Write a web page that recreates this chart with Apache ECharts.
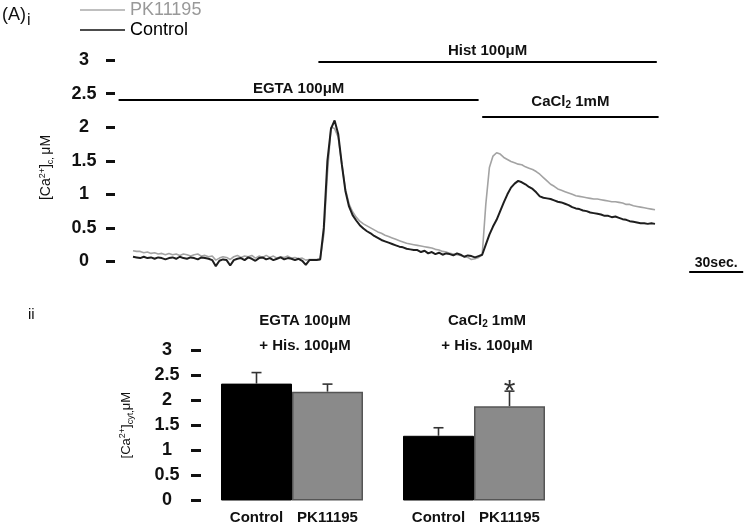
<!DOCTYPE html>
<html><head><meta charset="utf-8">
<script src="https://cdn.jsdelivr.net/npm/echarts@6/dist/echarts.min.js"></script>
<style>html,body{margin:0;padding:0;background:#fff}#c{width:750px;height:524px}</style>
</head><body><div id="c"></div>
<script>
// ---------- DATA ----------
const timeSec = [0,2,4,6,8,10,12,14,16,18,20,22,24,26,28,30,32,34,36,38,40,42,44,46,48,50,52,54,56,58,
60,62,64,66,68,70,72,74,76,78,80,82,84,86,88,90,92,94,96,98,100,102,104,106,108,110,112,114,116,118,
120,122,124,126,128,130,132,134,136,138,140,142,144,146,148,150,152,154,156,158,160,162,164,166,168,170,172,174,176,178,
180,182,184,186,188,190,192,194,196,198,200,202,204,206,208,210,212,214,216,218,220,222,224,226,228,230,232,234,236,238,
240,242,244,246,248,250,252,254,256,258,260,262,264,266,268,270,272,274,276,278,280,282,284,286,288,290];
const controlTrace = [
0.07,0.06,0.05,0.07,0.05,0.06,0.04,0.06,0.05,0.03,
0.05,0.06,0.04,0.07,0.05,0.04,0.06,0.05,0.03,0.06,
0.05,0.04,0.02,-0.07,0.01,0.03,0.02,-0.06,0.02,0.04,
0.05,0.02,0.06,0.04,0.01,0.05,0.06,0.03,0.05,0.02,
0.04,0.06,0.03,0.05,0.04,0.02,0.04,0.01,-0.05,0.02,
0.02,0.02,
0.03,0.50,1.50,1.98,2.10,1.90,1.45,1.05,0.82,0.69,
0.61,0.54,0.49,0.45,0.42,0.38,0.35,0.32,0.30,0.28,
0.26,0.24,0.22,0.21,0.19,0.18,0.17,0.17,0.14,0.16,
0.12,0.14,0.11,0.13,0.10,0.12,0.11,0.09,0.12,0.10,
0.07,0.09,0.08,0.06,0.08,0.10,0.25,0.40,0.52,0.62,
0.75,0.88,1.00,1.10,1.16,1.20,1.18,1.15,1.11,1.08,
1.03,0.97,0.95,0.94,0.93,0.91,0.89,0.88,0.86,0.84,
0.81,0.79,0.78,0.76,0.75,0.73,0.72,0.71,0.70,0.68,
0.68,0.66,0.67,0.65,0.63,0.62,0.60,0.59,0.58,0.57,
0.57,0.56,0.57,0.56];
const pk11195Trace = [
0.16,0.15,0.15,0.13,0.14,0.12,0.13,0.11,0.12,0.10,
0.12,0.10,0.11,0.09,0.11,0.10,0.08,0.10,0.11,0.08,
0.09,0.07,0.08,0.02,0.05,0.07,0.06,0.03,0.07,0.09,
0.06,0.08,0.07,0.09,0.05,0.08,0.06,0.09,0.06,0.08,
0.05,0.07,0.06,0.08,0.05,0.06,0.04,0.05,0.02,0.03,
0.03,0.03,
0.04,0.40,1.30,2.00,1.98,1.85,1.45,1.08,0.86,0.74,
0.66,0.60,0.56,0.53,0.50,0.47,0.44,0.42,0.39,0.37,
0.35,0.33,0.31,0.29,0.27,0.26,0.25,0.24,0.23,0.22,
0.21,0.20,0.18,0.17,0.15,0.14,0.12,0.11,0.10,0.09,
0.07,0.06,0.03,0.04,0.06,0.10,0.85,1.40,1.57,1.62,
1.60,1.55,1.52,1.49,1.47,1.45,1.44,1.41,1.39,1.37,
1.34,1.30,1.25,1.20,1.15,1.12,1.08,1.06,1.04,1.02,
1.00,0.98,0.97,0.96,0.95,0.94,0.93,0.93,0.92,0.91,
0.90,0.89,0.89,0.88,0.87,0.85,0.85,0.83,0.82,0.81,
0.80,0.79,0.78,0.77];
const traceTicks = [0,0.5,1,1.5,2,2.5,3];
const protocolNames = ['EGTA 100μM','Hist 100μM','CaCl2 1mM'];
const protocolStart = [-8, 103, 194];
const protocolEnd = [192, 291, 292];
const scaleBarSec = 30;
const scaleBarLabel = '30sec.';

const barCategories = ['EGTA','CaCl2'];
const groupLine1 = ['EGTA 100μM','CaCl2 1mM'];
const groupLine2 = ['+ His. 100μM','+ His. 100μM'];
const controlMean = [2.33,1.29];
const controlSem = [0.22,0.16];
const pkMean = [2.17,1.88];
const pkSem = [0.15,0.30];
const pkSignificance = ['','*'];

// ---------- CHART ----------
const FONT = '"Liberation Sans", Arial, Helvetica, sans-serif';
const sub = s => s.replace('Cl2','Cl{sub|2}');
const BAR_W = 71;
const chart = echarts.init(document.getElementById('c'), null, {renderer:'canvas'});

const protocolLevels = [2.41, 2.98, 2.15];
const protocolLabelDist = [3, 3, 7];
const markData = protocolNames.map((n,i)=>[
  {coord:[protocolStart[i], protocolLevels[i]], name: sub(n),
   label:{distance: protocolLabelDist[i]}},
  {coord:[protocolEnd[i], protocolLevels[i]]}
]);
markData.push([
  {coord:[309, -0.16], name: scaleBarLabel, label:{distance:2, fontSize:14}},
  {coord:[309+scaleBarSec, -0.16]}
]);

function errSeries(name, means, sems, marks, side){
  return {
    type:'custom', name:name, xAxisIndex:1, yAxisIndex:1, z:5,
    encode:{x:0,y:1},
    data: means.map((m,i)=>[i,m,sems[i]]),
    renderItem(params, api){
      const i=api.value(0), m=api.value(1), e=api.value(2);
      const p0 = api.coord([i,m]), p1 = api.coord([i,m+e]);
      const x = p0[0] + side*BAR_W/2;
      const ch = [
        {type:'line', shape:{x1:x,y1:p0[1],x2:x,y2:p1[1]}, style:{stroke:'#333',lineWidth:1.6}},
        {type:'line', shape:{x1:x-5,y1:p1[1],x2:x+5,y2:p1[1]}, style:{stroke:'#333',lineWidth:1.6}}
      ];
      const mk = marks ? marks[params.dataIndex] : '';
      if(mk){
        ch.push({type:'text', style:{text:mk, x:x, y:p1[1]+1, align:'center', verticalAlign:'middle',
          font:'30px '+FONT, fill:'#333'}});
      }
      return {type:'group', children:ch};
    }
  };
}

const option = {
  animation:false,
  textStyle:{fontFamily:FONT},
  title:[
    {text:'(A){s|i}', left:2, top:1, padding:0,
     textStyle:{fontSize:18, fontWeight:'normal', color:'#111', fontFamily:FONT,
       rich:{s:{fontSize:16, padding:[12,0,0,1], fontFamily:FONT, color:'#111'}}}},
    {text:'ii', left:28, top:307, padding:0,
     textStyle:{fontSize:15, fontWeight:'normal', color:'#111', fontFamily:FONT}}
  ],
  legend:{
    orient:'vertical', left:80, top:0, padding:0, itemGap:0,
    itemWidth:45, itemHeight:1.5, icon:'rect',
    textStyle:{fontSize:18, fontFamily:FONT, lineHeight:20},
    data:[{name:'PK11195', textStyle:{color:'#999'}, itemStyle:{color:'#aaa'}},
          {name:'Control', textStyle:{color:'#000'}, itemStyle:{color:'#111'}}]
  },
  grid:[
    {left:115, width:630, top:40, height:255},
    {left:201, width:364, top:350, height:150.5}
  ],
  xAxis:[
    {type:'value', gridIndex:0, min:-10, max:340, show:false},
    {type:'category', gridIndex:1, data:barCategories, position:'bottom',
     axisLine:{show:false}, axisTick:{show:false}, axisLabel:{show:false}},
    {type:'category', gridIndex:1, data:barCategories, position:'top',
     axisLine:{show:false}, axisTick:{show:false},
     axisLabel:{margin:-8, fontSize:15, fontWeight:'bold', color:'#111', lineHeight:25,
       padding:[0,0,0,26],
       formatter:(v,i)=> sub(groupLine1[i]) + '\n' + groupLine2[i],
       rich:{sub:{fontSize:10, fontWeight:'bold', padding:[7,0,0,0], color:'#111'}}}}
  ],
  yAxis:[
    {type:'value', gridIndex:0, min:-0.5, max:3.3, interval:0.5,
     splitLine:{show:false}, axisLine:{show:false, onZero:false},
     axisTick:{show:true, length:9, lineStyle:{width:3,color:'#111'}, customValues:traceTicks},
     axisLabel:{customValues:traceTicks, align:'center', margin:31, fontSize:18, fontWeight:'bold', color:'#111'},
     name:'[Ca{sup|2+}]{sub|c, }μM', nameLocation:'middle', nameRotate:90, nameGap:60,
     nameTextStyle:{fontSize:14, color:'#111',
       rich:{sup:{fontSize:9, padding:[0,0,8,0]}, sub:{fontSize:9, padding:[8,0,0,0]}}}},
    {type:'value', gridIndex:1, min:0, max:3, interval:0.5,
     splitLine:{show:false}, axisLine:{show:false, onZero:false},
     axisTick:{show:true, length:10, lineStyle:{width:3,color:'#111'}},
     axisLabel:{align:'center', margin:34, fontSize:18, fontWeight:'bold', color:'#111'},
     name:'[Ca{sup|2+}]{sub|cyt,}μM', nameLocation:'middle', nameRotate:90, nameGap:66,
     nameTextStyle:{fontSize:13, color:'#111',
       rich:{sup:{fontSize:9, padding:[0,0,8,0]}, sub:{fontSize:9, padding:[8,0,0,0]}}}}
  ],
  series:[
    {type:'line', name:'PK11195', xAxisIndex:0, yAxisIndex:0, symbol:'none', showSymbol:false,
     lineStyle:{color:'#a3a3a3', width:1.6}, itemStyle:{color:'#a3a3a3'},
     data: timeSec.map((t,i)=>[t, pk11195Trace[i]]), z:2},
    {type:'line', name:'Control', xAxisIndex:0, yAxisIndex:0, symbol:'none', showSymbol:false,
     lineStyle:{color:'#1e1e1e', width:2}, itemStyle:{color:'#1e1e1e'},
     data: timeSec.map((t,i)=>[t, controlTrace[i]]), z:3},
    {type:'line', name:'protocol', xAxisIndex:0, yAxisIndex:0, data:[], silent:true,
     markLine:{silent:true, symbol:['none','none'], animation:false,
       lineStyle:{color:'#000', width:2, type:'solid'},
       label:{show:true, position:'middle', formatter:'{b}', fontSize:15, fontWeight:'bold', color:'#111',
         fontFamily:FONT, rich:{sub:{fontSize:10, fontWeight:'bold', padding:[7,0,0,0], color:'#111'}}},
       emphasis:{disabled:true},
       data: markData}},
    {type:'bar', name:'Control', xAxisIndex:1, yAxisIndex:1, barWidth:BAR_W, barGap:'0%',
     data: controlMean, itemStyle:{color:'#000', borderColor:'#000', borderWidth:1},
     label:{show:true, position:'bottom', distance:10, formatter:'{a}', fontSize:15, fontWeight:'bold', color:'#111'}},
    {type:'bar', name:'PK11195', xAxisIndex:1, yAxisIndex:1, barWidth:BAR_W, barGap:'0%',
     data: pkMean, itemStyle:{color:'#8a8a8a', borderColor:'#555', borderWidth:1.5},
     label:{show:true, position:'bottom', distance:10, formatter:'{a}', fontSize:15, fontWeight:'bold', color:'#111'}},
    errSeries('Control SEM', controlMean, controlSem, null, -1),
    errSeries('PK11195 SEM', pkMean, pkSem, pkSignificance, 1)
  ]
};
chart.setOption(option);
</script></body></html>
